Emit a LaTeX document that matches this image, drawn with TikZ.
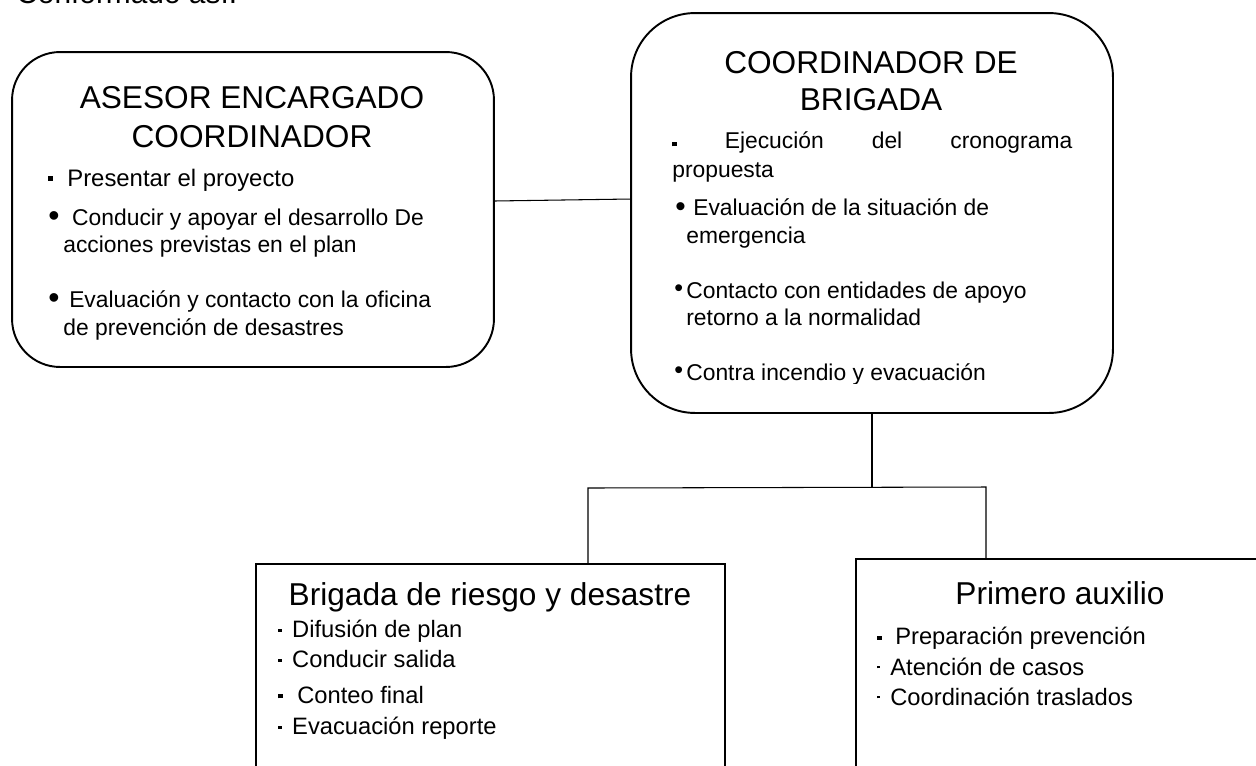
\documentclass[tikz,border=0pt]{standalone}
\usepackage{fontspec}
\setmainfont{Liberation Sans}

\newcommand{\ttlfont}{\fontsize{18}{22}\selectfont}
\newcommand{\itmfont}{\fontsize{13}{16}\selectfont}
\newcommand{\itmfontb}{\fontsize{13.5}{16}\selectfont}
% square bullet: [raise]{size}{box width}
\newcommand{\sqbul}[3][3pt]{\makebox[#3][l]{\raisebox{#1}{\rule{#2}{#2}}}}
% round bullet: [raise]{scale}{box width}
\newcommand{\rndbul}[3][-1pt]{\makebox[#3][l]{\raisebox{#1}{\scalebox{#2}{•}}}}

\begin{document}
\begin{tikzpicture}[x=0.02cm, y=-0.02cm,
  roundbox/.style={draw, line width=1.1pt, rounded corners=#1, inner sep=0pt, outer sep=0pt},
  sqbox/.style={draw, line width=1.1pt, inner sep=0pt, outer sep=0pt},
  link/.style={line width=0.6pt},
  ttl/.style={anchor=base, inner sep=0pt, font=\ttlfont},
  itm/.style={anchor=base west, inner sep=0pt, font=\itmfont},
  itmb/.style={anchor=base west, inner sep=0pt, font=\itmfontb}]
\useasboundingbox (0,0) rectangle (1256,765);
%
\node [anchor=base west, inner sep=0pt, font=\fontsize{17}{20}\selectfont] (hdr) at (16,3) {Conformado así:};
%
\node [roundbox=0.96cm, minimum width=9.64cm, minimum height=6.3cm] (asesor) at (253,209.5) {};
\node [roundbox=1.28cm, minimum width=9.64cm, minimum height=8cm] (coord) at (872,213) {};
\node [sqbox, minimum width=9.38cm, minimum height=5.52cm] (brigada) at (490.5,702) {};
\node [sqbox, minimum width=8.88cm, minimum height=5.62cm] (primero) at (1078,699.5) {};
%
\coordinate (jl) at (588,488);
\coordinate (jr) at (986,487);
\draw [link] ([yshift=0.17cm]asesor.east) -- ([yshift=0.28cm]coord.west);
\draw [link] (coord.south) -- (coord.south |- jl);
\draw [link] (brigada.north -| jl) -- (jl) -- (jr) -- (primero.north -| jr);
%
% asesor encargado
\node [ttl] (a0) at (252,108) {ASESOR ENCARGADO};
\node [ttl] (a1) at (252,147) {COORDINADOR};
\node [itm, font=\fontsize{13.6}{16}\selectfont] (a2) at (48,186) {\sqbul[3pt]{2.6pt}{10.8pt}Presentar el proyecto};
\node [itm] (a3) at (48,225) {\rndbul{1.4}{13.6pt}Conducir y apoyar el desarrollo De};
\node [itm] (a4) at (63,252) {acciones previstas en el plan};
\node [itm] (a5) at (48,307) {\rndbul{1.4}{11.9pt}Evaluación y contacto con la oficina};
\node [itm] (a6) at (63,335) {de prevención de desastres};
%
% coordinador de brigada
\node [ttl] (c0) at (871,73) {COORDINADOR DE};
\node [ttl] (c1) at (871,110) {BRIGADA};
\node [itm] (c2) at (672,148) {\hbox to 8cm{\raisebox{1pt}{\rule{2.5pt}{2.5pt}}\hfill Ejecución\hfill del\hfill cronograma}};
\node [itm] (c3) at (672,177) {propuesta};
\node [itm] (c4) at (675,215) {\rndbul[-0.7pt]{1.3}{10.2pt}Evaluación de la situación de};
\node [itm] (c5) at (686,243) {emergencia};
\node [itm] (c6) at (674,298) {\rndbul[0.6pt]{1.1}{6.8pt}Contacto con entidades de apoyo};
\node [itm] (c7) at (686,325) {retorno a la normalidad};
\begin{scope}
\clip (600,0) rectangle (1120,383);
\node [itm] (c8) at (674,380) {\rndbul[0.6pt]{1.1}{6.8pt}Contra incendio y evacuación};
\end{scope}
%
% brigada de riesgo y desastre
\node [ttl] (b0) at (490,605) {Brigada de riesgo y desastre};
\node [itmb] (b1) at (278,637) {\sqbul[2.9pt]{1.9pt}{7.9pt}Difusión de plan};
\node [itmb] (b2) at (278,667) {\sqbul[2.9pt]{1.9pt}{7.9pt}Conducir salida};
\node [itmb] (b3) at (278,703) {\sqbul[2.6pt]{2.4pt}{10.8pt}Conteo final};
\node [itmb] (b4) at (278,734) {\sqbul[2.9pt]{1.9pt}{7.9pt}Evacuación reporte};
%
% primero auxilio
\node [ttl] (p0) at (1060,604) {Primero auxilio};
\node [itmb] (p1) at (877,644) {\sqbul[2.3pt]{2.5pt}{10.2pt}Preparación prevención};
\node [itmb] (p2) at (877,675) {\sqbul[3.8pt]{1.6pt}{7.4pt}Atención de casos};
\node [itmb] (p3) at (877,705) {\sqbul[3.8pt]{1.6pt}{7.4pt}Coordinación traslados};
%%%%%%%%%%%%%%%%%%%%%%%%%%%%%%%
\end{tikzpicture}
\end{document}
